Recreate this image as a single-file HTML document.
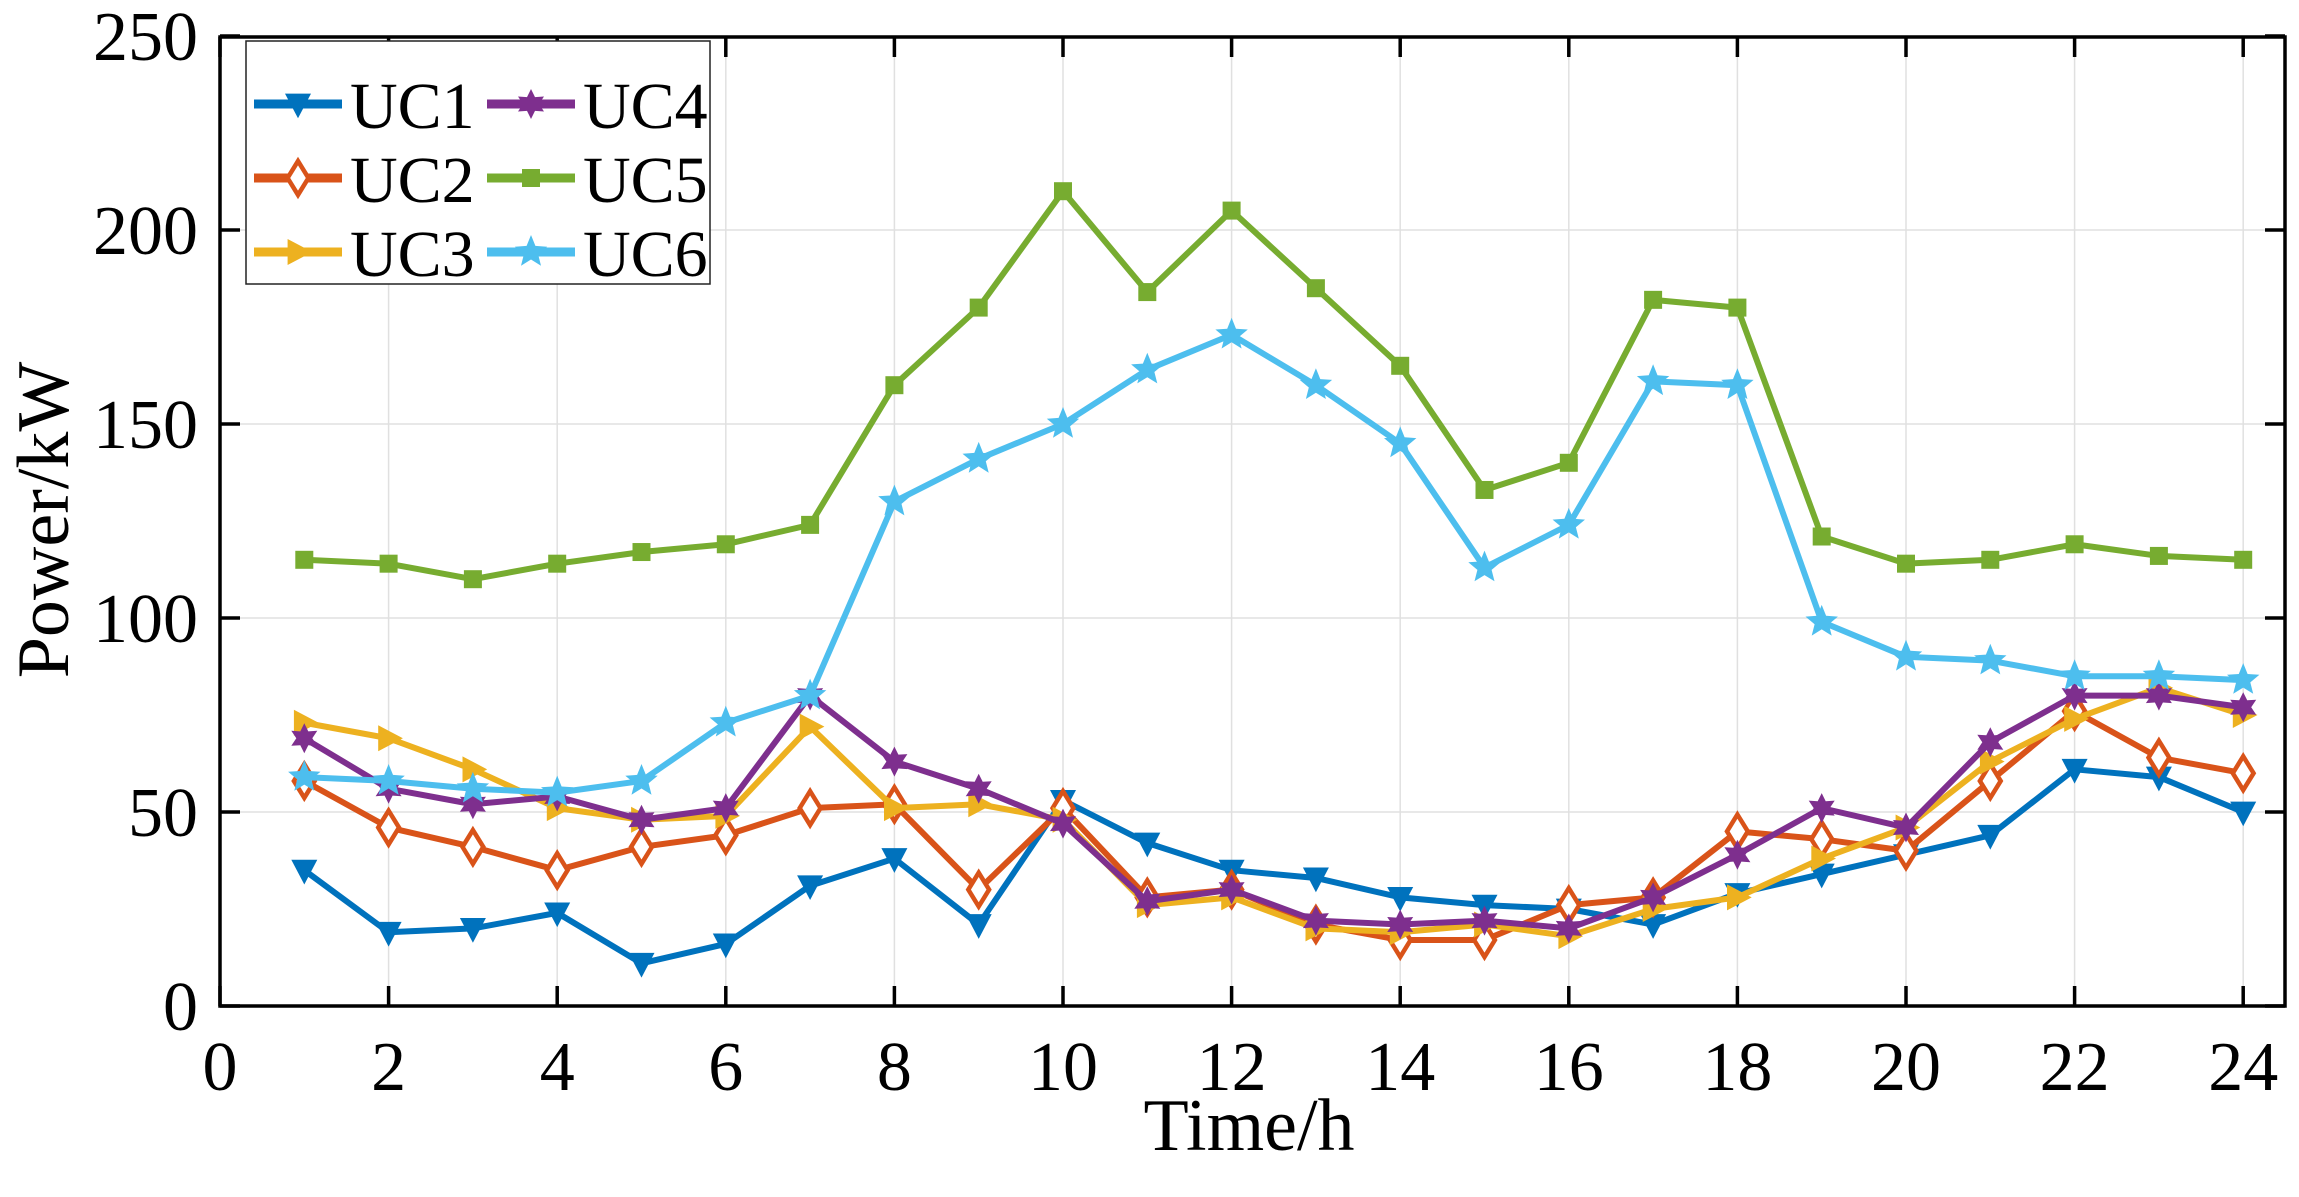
<!DOCTYPE html>
<html><head><meta charset="utf-8"><style>
html,body{margin:0;padding:0;background:#fff;}
svg{display:block;font-family:"Liberation Serif",serif;}
</style></head><body>
<svg id="s" width="2299" height="1197" viewBox="0 0 2299 1197" xmlns="http://www.w3.org/2000/svg"></svg>
<script>
const X0=220,PX=84.3,Y0=1006,PY=194/50,L=220,T=37,R=2285,B=1006;
const sx=h=>X0+h*PX, sy=v=>Y0-v*PY;
let s='';
for(let h=2;h<=24;h+=2) s+=`<line x1="${sx(h)}" y1="${T}" x2="${sx(h)}" y2="${B}" stroke="#e0e0e0" stroke-width="1.5"/>`;
for(let v=50;v<=250;v+=50) s+=`<line x1="${L}" y1="${sy(v)}" x2="${R}" y2="${sy(v)}" stroke="#e0e0e0" stroke-width="1.5"/>`;
for(let h=0;h<=24;h+=2){s+=`<line x1="${sx(h)}" y1="${B}" x2="${sx(h)}" y2="${B-20}" stroke="#000" stroke-width="3.5"/><line x1="${sx(h)}" y1="${T}" x2="${sx(h)}" y2="${T+20}" stroke="#000" stroke-width="3.5"/>`;
 s+=`<text x="${sx(h)}" y="1090" font-size="70" text-anchor="middle">${h}</text>`;}
for(let v=0;v<=250;v+=50){s+=`<line x1="${L}" y1="${sy(v)}" x2="${L+20}" y2="${sy(v)}" stroke="#000" stroke-width="3.5"/><line x1="${R}" y1="${sy(v)}" x2="${R-20}" y2="${sy(v)}" stroke="#000" stroke-width="3.5"/>`;
 s+=`<text x="198" y="${sy(v)+24}" font-size="70" text-anchor="end">${v}</text>`;}
s+=`<rect x="${L}" y="${T}" width="${R-L}" height="${B-T}" fill="none" stroke="#000" stroke-width="3.5"/>`;
s+=`<text x="1249" y="1150" font-size="74" text-anchor="middle">Time/h</text>`;
s+=`<text transform="translate(68,520) rotate(-90)" font-size="74" text-anchor="middle">Power/kW</text>`;
const D=[
["UC1","#0072BD","tri",[35,19,20,24,11,16,31,38,21,53,42,35,33,28,26,25,21,29,34,39,44,61,59,50]],
["UC2","#D95319","dia",[58,46,41,35,41,44,51,52,30,51,28,30,21,17,17,26,28,45,43,40,58,76,64,60]],
["UC3","#EDB120","rtri",[73,69,61,51,48,49,72,51,52,48,26,28,20,19,21,18,25,28,38,46,63,74,82,75]],
["UC4","#7E2F8E","hex",[69,56,52,54,48,51,80,63,56,47,27,30,22,21,22,20,28,39,51,46,68,80,80,77]],
["UC5","#77AC30","sq",[115,114,110,114,117,119,124,160,180,210,184,205,185,165,133,140,182,180,121,114,115,119,116,115]],
["UC6","#4DBEEE","pent",[59,58,56,55,58,73,80,130,141,150,164,173,160,145,113,124,161,160,99,90,89,85,85,84]]];
function star(x,y,n,ro,ri){let p=[];for(let i=0;i<2*n;i++){const a=-Math.PI/2+i*Math.PI/n,r=i%2?ri:ro;p.push((x+r*Math.cos(a)).toFixed(1)+','+(y+r*Math.sin(a)).toFixed(1));}return p.join(' ');}
function mk(t,x,y,c){const r=13;
 if(t=="tri")return `<polygon points="${x-r},${y-r*0.8} ${x+r},${y-r*0.8} ${x},${y+r*1.1}" fill="${c}"/>`;
 if(t=="rtri")return `<polygon points="${x-r*0.8},${y-r} ${x-r*0.8},${y+r} ${x+r*1.1},${y}" fill="${c}"/>`;
 if(t=="dia")return `<polygon points="${x},${y-r*1.3} ${x+r*0.8},${y} ${x},${y+r*1.3} ${x-r*0.8},${y}" fill="#fff" stroke="${c}" stroke-width="4.5"/>`;
 if(t=="sq")return `<rect x="${x-9}" y="${y-9}" width="18" height="18" fill="${c}"/>`;
 if(t=="hex")return `<polygon points="${star(x,y,6,15,8)}" fill="${c}"/>`;
 return `<polygon points="${star(x,y,5,17,7.5)}" fill="${c}"/>`;}
D.forEach(d=>{const pts=d[3].map((v,i)=>[sx(i+1),sy(v)]);
 s+=`<polyline points="${pts.map(p=>p.join(',')).join(' ')}" fill="none" stroke="${d[1]}" stroke-width="6" stroke-linejoin="round"/>`;
 pts.forEach(p=>s+=mk(d[2],p[0],p[1],d[1]));});
s+=`<rect x="246" y="41" width="464" height="243" fill="#fff" stroke="#222" stroke-width="1.5"/>`;
D.forEach((d,i)=>{const col=i<3?0:1,row=i%3;const x=254+col*233,y=104+row*74;
 s+=`<line x1="${x}" y1="${y}" x2="${x+88}" y2="${y}" stroke="${d[1]}" stroke-width="9"/>`+mk(d[2],x+44,y,d[1]);
 s+=`<text x="${x+96}" y="${y+24}" font-size="66">${d[0]}</text>`;});
document.getElementById('s').innerHTML=s;
</script>
</body></html>
